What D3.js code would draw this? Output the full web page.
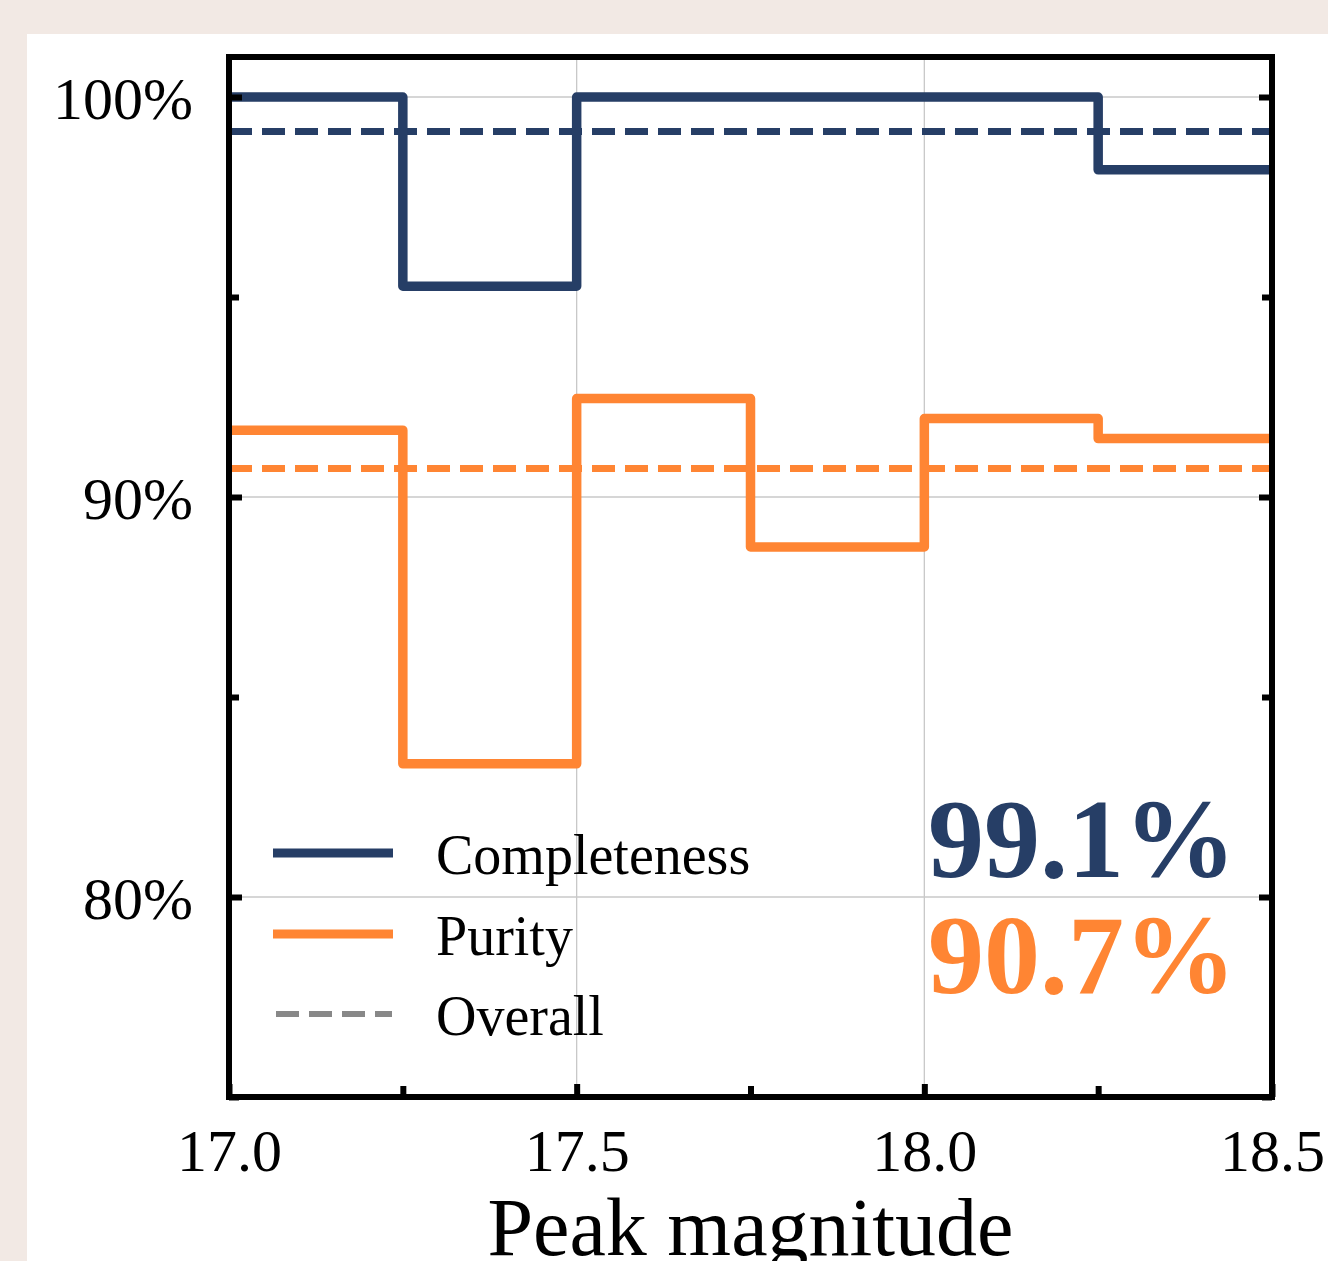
<!DOCTYPE html>
<html>
<head>
<meta charset="utf-8">
<script src="https://cdn.jsdelivr.net/npm/d3@7"></script>
<style>
  html, body { margin: 0; padding: 0; background: #f2e9e4; }
  svg { display: block; font-family: "Liberation Serif", "Times New Roman", serif; }
</style>
</head>
<body>
<div id="chart"></div>
<script>
// Bin edges (peak magnitude) and per-bin values.
const binEdges = [17.0, 17.25, 17.5, 17.75, 18.0, 18.25, 18.5];
const completeness = [100, 95.27, 100, 100, 100, 98.18];
const purity = [91.67, 83.33, 92.46, 88.75, 91.96, 91.46];
const overallCompleteness = 99.14;
const overallPurity = 90.71;

const xMajorTicks = [17.0, 17.5, 18.0, 18.5];
const xMinorTicks = [17.25, 17.75, 18.25];
const yMajorTicks = [80, 90, 100];
const yMinorTicks = [75, 85, 95];

const navy = "#263e66";
const orange = "#ff8533";

const width = 1328, height = 1261;
const margin = { left: 229, top: 57, right: 56, bottom: 164 };

const svg = d3.select("#chart")
  .append("svg")
  .attr("width", width)
  .attr("height", height);

// White panel on the beige page.
svg.append("rect")
  .attr("x", 27).attr("y", 34)
  .attr("width", width - 27).attr("height", height - 34)
  .attr("fill", "#ffffff");

const x = d3.scaleLinear()
  .domain([17.0, 18.5])
  .range([margin.left, width - margin.right]);

const y = d3.scaleLinear()
  .domain([75, 101])
  .range([height - margin.bottom, margin.top]);

// Gridlines at the major ticks.
const grid = svg.append("g").attr("stroke", "#c8c8c8").attr("stroke-width", 1.3);
grid.selectAll(".gx").data(xMajorTicks).enter().append("line")
  .attr("x1", d => x(d)).attr("x2", d => x(d))
  .attr("y1", y.range()[1]).attr("y2", y.range()[0]);
grid.selectAll(".gy").data(yMajorTicks).enter().append("line")
  .attr("x1", x.range()[0]).attr("x2", x.range()[1])
  .attr("y1", d => y(d)).attr("y2", d => y(d));

// Step line helper: repeat last value so the final bin is drawn.
const stepLine = d3.line()
  .x(d => x(d[0]))
  .y(d => y(d[1]))
  .curve(d3.curveStepAfter);

function stepData(values) {
  const pts = values.map((v, i) => [binEdges[i], v]);
  pts.push([binEdges[binEdges.length - 1], values[values.length - 1]]);
  return pts;
}

// Overall dashed lines.
[[overallCompleteness, navy], [overallPurity, orange]].forEach(([v, c]) => {
  svg.append("line")
    .attr("x1", x.range()[0]).attr("x2", x.range()[1])
    .attr("y1", y(v)).attr("y2", y(v))
    .attr("stroke", c)
    .attr("stroke-width", 7)
    .attr("stroke-dasharray", "23,10");
});

[[completeness, navy], [purity, orange]].forEach(([vals, c]) => {
  svg.append("path")
    .datum(stepData(vals))
    .attr("d", stepLine)
    .attr("fill", "none")
    .attr("stroke", c)
    .attr("stroke-width", 9.5)
    .attr("stroke-linejoin", "round");
});

// Axes with inward ticks.
const plotBottom = y.range()[0], plotRight = x.range()[1];

function styleAxis(g) {
  g.select(".domain").remove();
  g.selectAll(".tick line").attr("stroke", "#000").attr("stroke-width", 6);
  g.selectAll("text").attr("fill", "#000").style("font-size", "60px")
    .style("font-family", "'Liberation Serif', 'Times New Roman', serif");
}

svg.append("g")
  .attr("transform", `translate(0,${plotBottom})`)
  .call(d3.axisBottom(x).tickValues(xMajorTicks).tickSize(-13).tickFormat(d3.format(".1f")))
  .call(styleAxis)
  .call(g => g.selectAll("text").attr("y", 74).attr("dy", null));

svg.append("g")
  .attr("transform", `translate(0,${plotBottom})`)
  .call(d3.axisBottom(x).tickValues(xMinorTicks).tickSize(-11).tickFormat(""))
  .call(styleAxis);

svg.append("g")
  .attr("transform", `translate(${margin.left},0)`)
  .call(d3.axisLeft(y).tickValues(yMajorTicks).tickSize(-13).tickFormat(d => d + "%"))
  .call(styleAxis)
  .call(g => g.selectAll("text").attr("x", -36).attr("dy", 21));

svg.append("g")
  .attr("transform", `translate(${margin.left},0)`)
  .call(d3.axisLeft(y).tickValues(yMinorTicks).tickSize(-10).tickFormat(""))
  .call(styleAxis);

svg.append("g")
  .attr("transform", `translate(${plotRight},0)`)
  .call(d3.axisRight(y).tickValues(yMajorTicks).tickSize(-13).tickFormat(""))
  .call(styleAxis);

svg.append("g")
  .attr("transform", `translate(${plotRight},0)`)
  .call(d3.axisRight(y).tickValues(yMinorTicks).tickSize(-10).tickFormat(""))
  .call(styleAxis);

// Frame.
svg.append("rect")
  .attr("x", x.range()[0]).attr("y", y.range()[1])
  .attr("width", x.range()[1] - x.range()[0])
  .attr("height", y.range()[0] - y.range()[1])
  .attr("fill", "none")
  .attr("stroke", "#000")
  .attr("stroke-width", 6);

// X axis title.
svg.append("text")
  .attr("x", (x.range()[0] + x.range()[1]) / 2)
  .attr("y", 1255)
  .attr("text-anchor", "middle")
  .style("font-size", "82px")
  .text("Peak magnitude");

// Legend.
const legendItems = [
  { label: "Completeness", color: navy, dash: null, w: 9, y: 853 },
  { label: "Purity", color: orange, dash: null, w: 9, y: 934 },
  { label: "Overall", color: "#888888", dash: "23,10", w: 6, y: 1014 }
];
const legend = svg.append("g");
legendItems.forEach(d => {
  legend.append("line")
    .attr("x1", d.dash ? 276 : 273).attr("x2", d.dash ? 392 : 393)
    .attr("y1", d.y).attr("y2", d.y)
    .attr("stroke", d.color)
    .attr("stroke-width", d.w)
    .attr("stroke-dasharray", d.dash);
  legend.append("text")
    .attr("x", 436)
    .attr("y", d.y + 21)
    .style("font-size", "56px")
    .text(d.label);
});

// Overall values.
svg.append("text")
  .attr("x", 1236).attr("y", 877)
  .attr("text-anchor", "end")
  .attr("fill", navy)
  .style("font-size", "112px").style("font-weight", "bold")
  .text(overallCompleteness.toFixed(1) + "%");

svg.append("text")
  .attr("x", 1236).attr("y", 993)
  .attr("text-anchor", "end")
  .attr("fill", orange)
  .style("font-size", "112px").style("font-weight", "bold")
  .text(overallPurity.toFixed(1) + "%");
</script>
</body>
</html>
